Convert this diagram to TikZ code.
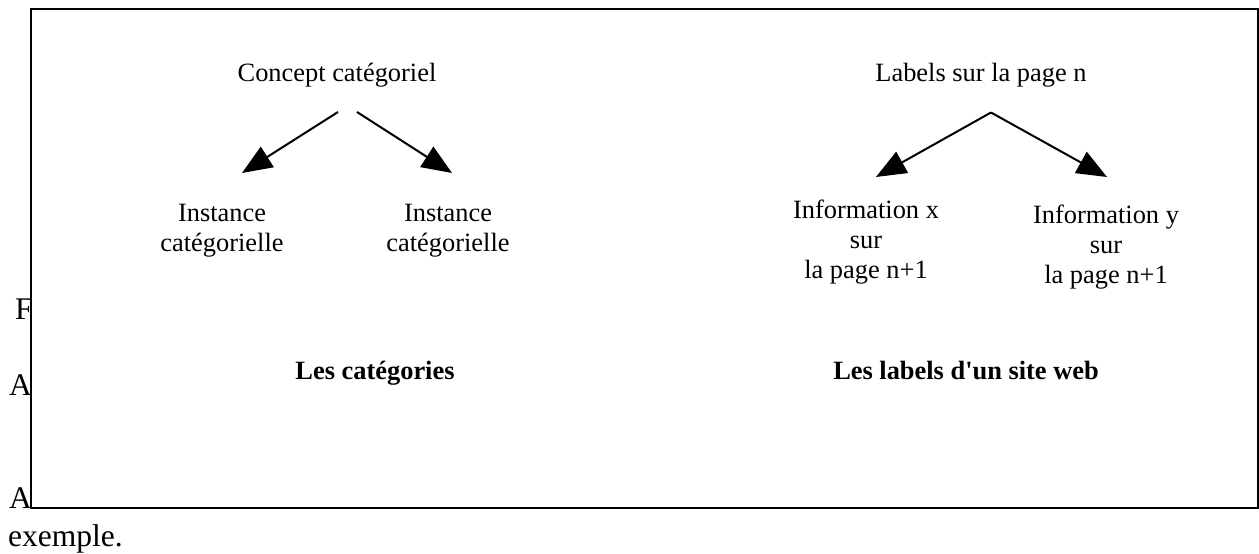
\documentclass[tikz,border=0pt]{standalone}
\usepackage{fontspec}
\setmainfont{Liberation Serif}[Ligatures=TeXOff]
\usetikzlibrary{arrows.meta}
\begin{document}
\begin{tikzpicture}[x=1pt,y=-1pt,
  txt/.style={inner sep=0pt, anchor=base, font=\fontsize{26.4}{30}\selectfont},
  ttl/.style={inner sep=0pt, anchor=base, font=\fontsize{26.4}{30}\selectfont\bfseries},
  pagetxt/.style={inner sep=0pt, anchor=base west, font=\fontsize{31.5}{36}\selectfont},
  arr/.style={line width=2pt, -{Triangle[length=30pt,width=24pt]}},
  frame/.style={draw=black, line width=2pt, fill=white}]
\useasboundingbox (0,0) rectangle (1259,554);
% page text behind the figure
\node[pagetxt] (pF) at (15,319) {F};
\node[pagetxt] (pA1) at (9,395) {A};
\node[pagetxt] (pA2) at (9,508) {A};
\node[pagetxt] (pex) at (8,546) {exemple.};
% frame
\draw[frame] (31,9) rectangle (1257.5,508);
% left diagram
\node[txt] (concept) at (337,81) {Concept catégoriel};
\node[txt] (inst1a) at (222,221) {Instance};
\node[txt] (inst1b) at (222,251) {catégorielle};
\node[txt] (inst2a) at (448,221) {Instance};
\node[txt] (inst2b) at (448,251) {catégorielle};
\coordinate (cL) at (338,112);
\coordinate (cR) at (357,112);
\coordinate (t1) at (242,173);
\coordinate (t2) at (452,173);
\draw[arr] (cL) -- (t1);
\draw[arr] (cR) -- (t2);
\node[ttl] (titleL) at (375,379) {Les catégories};
% right diagram
\node[txt] (labels) at (981,81) {Labels sur la page n};
\node[txt] (infx1) at (866,218) {Information x};
\node[txt] (infx2) at (866,248) {sur};
\node[txt] (infx3) at (866,278) {la page n+1};
\node[txt] (infy1) at (1106,223) {Information y};
\node[txt] (infy2) at (1106,253) {sur};
\node[txt] (infy3) at (1106,283) {la page n+1};
\coordinate (apex) at (991,112.5);
\coordinate (t3) at (876,177);
\coordinate (t4) at (1107,177);
\draw[arr] (apex) -- (t3);
\draw[arr] (apex) -- (t4);
\node[ttl] (titleR) at (966,379) {Les labels d'un site web};
\end{tikzpicture}
\end{document}
